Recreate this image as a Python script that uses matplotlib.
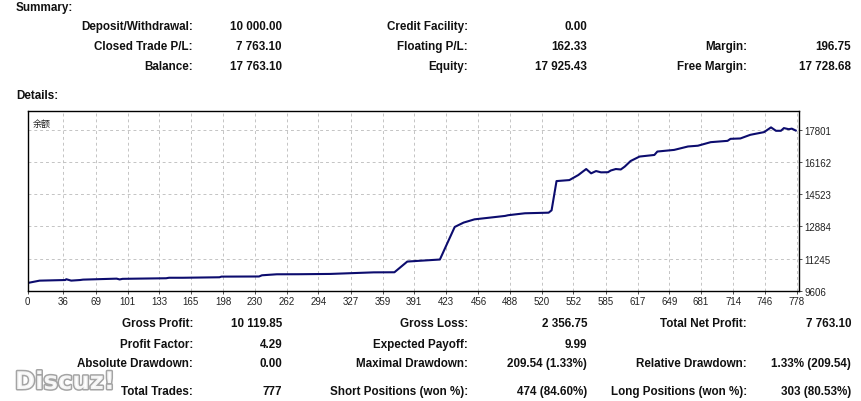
import matplotlib.pyplot as plt
import matplotlib.patheffects as pe

W, H = 861, 402

# balance curve (trade number, balance)
trades = [0, 12, 38, 39, 44, 53, 56, 90, 93, 96, 110, 140, 143, 157, 194, 196,
          234, 237, 252, 274, 306, 350, 371, 384, 417, 432, 441, 452, 483, 486,
          503, 527, 530, 535, 548, 557, 565, 570, 575, 580, 587, 590, 595, 600,
          604, 610, 619, 634, 637, 654, 668, 678, 691, 708, 711, 721, 731, 745,
          752, 757, 762, 765, 770, 773, 777]
balance = [10000, 10118, 10150, 10190, 10120, 10150, 10170, 10220, 10180, 10210,
           10220, 10240, 10265, 10265, 10290, 10323, 10330, 10391, 10442, 10445,
           10460, 10540, 10545, 11090, 11194, 12853, 13075, 13240, 13415, 13450,
           13549, 13580, 13700, 15189, 15240, 15496, 15803, 15583, 15700, 15634,
           15640, 15730, 15803, 15780, 15926, 16213, 16438, 16520, 16694, 16777,
           16951, 16990, 17171, 17238, 17340, 17360, 17545, 17683, 17924, 17750,
           17750, 17888, 17830, 17860, 17763]

x_ticks = [0, 36, 69, 101, 133, 165, 198, 230, 262, 294, 327, 359, 391, 423,
           456, 488, 520, 552, 585, 617, 649, 681, 714, 746, 778]
y_ticks = [9606, 11245, 12884, 14523, 16162, 17801]

summary_rows = [
    [("Deposit/Withdrawal:", "10 000.00"), ("Credit Facility:", "0.00"), None],
    [("Closed Trade P/L:", "7 763.10"), ("Floating P/L:", "162.33"), ("Margin:", "196.75")],
    [("Balance:", "17 763.10"), ("Equity:", "17 925.43"), ("Free Margin:", "17 728.68")],
]
detail_rows = [
    [("Gross Profit:", "10 119.85"), ("Gross Loss:", "2 356.75"), ("Total Net Profit:", "7 763.10")],
    [("Profit Factor:", "4.29"), ("Expected Payoff:", "9.99"), None],
    [("Absolute Drawdown:", "0.00"), ("Maximal Drawdown:", "209.54 (1.33%)"),
     ("Relative Drawdown:", "1.33% (209.54)")],
    [("Total Trades:", "777"), ("Short Positions (won %):", "474 (84.60%)"),
     ("Long Positions (won %):", "303 (80.53%)")],
]

fig = plt.figure(figsize=(W / 100, H / 100), dpi=100)
fig.patch.set_facecolor("white")


def px(x, y):
    return x / W, 1 - y / H


def put(x, y, s, ha="right", **kw):
    fx, fy = px(x, y)
    fig.text(fx, fy, s, ha=ha, va="center", fontsize=8.4, fontweight="bold",
             family="Liberation Sans", color="#111111", **kw)


label_x = [193, 468, 747]
value_x = [282, 587, 851]


def put_rows(rows, ys):
    for row, y in zip(rows, ys):
        for col, cell in enumerate(row):
            if cell is None:
                continue
            put(label_x[col], y, cell[0])
            put(value_x[col], y, cell[1])


put(16, 8, "Summary:", ha="left")
put(16, 96, "Details:", ha="left")
put_rows(summary_rows, [27, 47, 67])
put_rows(detail_rows, [324, 345, 364, 392])

# chart
ax = fig.add_axes([27.7 / W, 1 - 291.7 / H, (798.7 - 27.7) / W, (291.7 - 112.3) / H])
ax.plot(trades, balance, color="#0c0c6e", lw=1.5)
ax.set_xlim(0, 780)
ax.set_ylim(9606, 18743)
ax.set_xticks(x_ticks)
ax.set_yticks(y_ticks)
ax.yaxis.tick_right()
ax.grid(True, color="#c4c4c4", ls=(0, (3, 3)), lw=0.7)
ax.tick_params(axis="both", length=2, width=0.6, color="#333333", pad=2,
               labelsize=7, labelcolor="#222222")
for lab in ax.get_xticklabels() + ax.get_yticklabels():
    lab.set_family("Liberation Sans")
for sp in ax.spines.values():
    sp.set_linewidth(1.0)
    sp.set_color("black")
ax.text(0.006, 0.955, "余额", transform=ax.transAxes, fontsize=6.5,
        family=["Noto Sans CJK SC", "DejaVu Sans"], va="top", ha="left", color="#222222")

# forum watermark
wx, wy = px(15, 383)
fig.text(wx, wy, "Discuz!", fontsize=17.5, fontweight="bold", family="DejaVu Sans",
         color="white", ha="left", va="center", alpha=0.9,
         path_effects=[pe.withStroke(linewidth=2.2, foreground="#9a9a9a")])

fig.savefig("out.png", dpi=100, facecolor="white")
